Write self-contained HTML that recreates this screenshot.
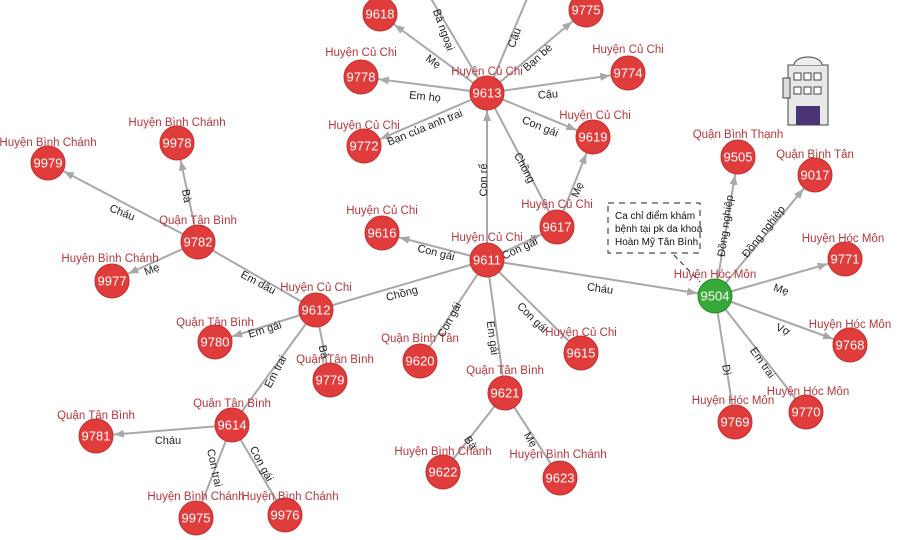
<!DOCTYPE html>
<html><head><meta charset="utf-8"><style>
html,body{margin:0;padding:0;background:#fff;width:900px;height:540px;overflow:hidden}
svg{display:block}
.e{stroke:#a8a8a8;stroke-width:2;fill:none}
.n{fill:#e03c3c;stroke:#c42e2e;stroke-width:1}
.id{fill:#fff;font:13px "Liberation Sans",sans-serif;text-anchor:middle;dominant-baseline:central}
.lb{fill:#b8363c;font:11.5px "Liberation Sans",sans-serif;text-anchor:middle}
.el{fill:#222;font:11px "Liberation Sans",sans-serif;text-anchor:middle;dominant-baseline:central}
.bx{font:10px "Liberation Sans",sans-serif;fill:#111}
</style></head><body>
<svg width="900" height="540" viewBox="0 0 900 540" xmlns="http://www.w3.org/2000/svg">
<defs><marker id="a" markerUnits="userSpaceOnUse" markerWidth="12" markerHeight="10" refX="28" refY="4" orient="auto"><path d="M0,0 L10,4 L0,8 z" fill="#a8a8a8"/></marker></defs>
<g class="e" marker-end="url(#a)">
<line x1="487" y1="93" x2="380" y2="14"/>
<line x1="487" y1="93" x2="420" y2="-20" marker-end="none"/>
<line x1="487" y1="93" x2="535" y2="-20" marker-end="none"/>
<line x1="487" y1="93" x2="586" y2="10"/>
<line x1="487" y1="93" x2="361" y2="77"/>
<line x1="487" y1="93" x2="628" y2="73"/>
<line x1="487" y1="93" x2="364" y2="146"/>
<line x1="487" y1="93" x2="593" y2="137"/>
<line x1="557" y1="227" x2="487" y2="93" marker-end="none"/>
<line x1="487" y1="260" x2="487" y2="93"/>
<line x1="557" y1="227" x2="593" y2="137"/>
<line x1="487" y1="260" x2="382" y2="233"/>
<line x1="487" y1="260" x2="557" y2="227"/>
<line x1="487" y1="260" x2="715" y2="296"/>
<line x1="316" y1="310" x2="487" y2="260" marker-end="none"/>
<line x1="487" y1="260" x2="420" y2="361" marker-end="none"/>
<line x1="487" y1="260" x2="505" y2="393" marker-end="none"/>
<line x1="487" y1="260" x2="581" y2="353" marker-end="none"/>
<line x1="505" y1="393" x2="443" y2="472" marker-end="none"/>
<line x1="505" y1="393" x2="560" y2="478" marker-end="none"/>
<line x1="316" y1="310" x2="198" y2="242" marker-end="none"/>
<line x1="198" y1="242" x2="177" y2="143"/>
<line x1="198" y1="242" x2="48" y2="163"/>
<line x1="198" y1="242" x2="112" y2="281"/>
<line x1="316" y1="310" x2="215" y2="342"/>
<line x1="316" y1="310" x2="330" y2="380" marker-end="none"/>
<line x1="316" y1="310" x2="232" y2="425" marker-end="none"/>
<line x1="232" y1="425" x2="96" y2="436"/>
<line x1="232" y1="425" x2="196" y2="518" marker-end="none"/>
<line x1="232" y1="425" x2="285" y2="515" marker-end="none"/>
<line x1="715" y1="296" x2="738" y2="157"/>
<line x1="715" y1="296" x2="815" y2="175"/>
<line x1="715" y1="296" x2="845" y2="259"/>
<line x1="715" y1="296" x2="850" y2="345"/>
<line x1="715" y1="296" x2="806" y2="412" marker-end="none"/>
<line x1="715" y1="296" x2="735" y2="422" marker-end="none"/>
</g>
<g class="el">
<text transform="translate(433,62) rotate(36)">Mẹ</text>
<text transform="translate(443,30) rotate(70)">Bà ngoại</text>
<text transform="translate(515,38) rotate(-70)">Cậu</text>
<text transform="translate(538,58) rotate(-42)">Bạn bè</text>
<text transform="translate(425,97) rotate(6)">Em họ</text>
<text transform="translate(548,95) rotate(-4)">Cậu</text>
<text transform="translate(425,128) rotate(-22)">Bạn của anh trai</text>
<text transform="translate(540,127) rotate(22)">Con gái</text>
<text transform="translate(524,168) rotate(62)">Chồng</text>
<text transform="translate(484,180) rotate(-90)">Con rể</text>
<text transform="translate(578,190) rotate(-68)">Mẹ</text>
<text transform="translate(436,253) rotate(14)">Con gái</text>
<text transform="translate(520,249) rotate(-25)">Con gái</text>
<text transform="translate(600,289) rotate(8)">Cháu</text>
<text transform="translate(402,294) rotate(-15)">Chồng</text>
<text transform="translate(450,320) rotate(-62)">Con gái</text>
<text transform="translate(492,338) rotate(82)">Em gái</text>
<text transform="translate(532,318) rotate(45)">Con gái</text>
<text transform="translate(470,443) rotate(55)">Bà</text>
<text transform="translate(530,440) rotate(58)">Mẹ</text>
<text transform="translate(258,283) rotate(28)">Em dâu</text>
<text transform="translate(186,196) rotate(80)">Bà</text>
<text transform="translate(122,213) rotate(22)">Cháu</text>
<text transform="translate(152,270) rotate(-22)">Mẹ</text>
<text transform="translate(265,330) rotate(-17)">Em gái</text>
<text transform="translate(323,352) rotate(78)">Bà</text>
<text transform="translate(276,372) rotate(-62)">Em trai</text>
<text transform="translate(168,441)">Cháu</text>
<text transform="translate(214,468) rotate(78)">Con trai</text>
<text transform="translate(261,464) rotate(62)">Con gái</text>
<text transform="translate(726,226) rotate(-82)">Đồng nghiệp</text>
<text transform="translate(764,232) rotate(-52)">Đồng nghiệp</text>
<text transform="translate(781,290) rotate(18)">Mẹ</text>
<text transform="translate(783,330) rotate(24)">Vợ</text>
<text transform="translate(762,363) rotate(55)">Em trai</text>
<text transform="translate(726,370) rotate(82)">Dì</text>
</g>
<rect x="608" y="203" width="92" height="50" fill="#fff" stroke="#222" stroke-dasharray="6,5"/>
<line x1="674" y1="255" x2="700" y2="282" stroke="#222" stroke-dasharray="5,4"/>
<text class="bx" x="615" y="219">Ca chỉ điểm khám</text>
<text class="bx" x="615" y="232">bệnh tại pk da khoa</text>
<text class="bx" x="615" y="245">Hoàn Mỹ Tân Bình</text>
<g>
<rect x="788" y="65" width="40" height="60" fill="#e8e8e8" stroke="#444" stroke-width="1"/>
<path d="M794,65 A14,8 0 0 1 822,65" fill="#eee" stroke="#444"/>
<rect x="783" y="78" width="7" height="20" fill="#ddd" stroke="#444"/>
<g fill="#fff" stroke="#444"><rect x="794" y="73" width="7" height="7"/><rect x="804" y="73" width="7" height="7"/><rect x="814" y="73" width="7" height="7"/><rect x="794" y="87" width="7" height="7"/><rect x="804" y="87" width="7" height="7"/><rect x="814" y="87" width="7" height="7"/></g>
<rect x="796" y="106" width="24" height="19" fill="#4a3577"/>
</g>
<g>
<circle class="n" cx="380" cy="14" r="17"/><text class="id" x="380" y="14">9618</text>
<circle class="n" cx="586" cy="10" r="17"/><text class="id" x="586" y="10">9775</text>
<circle class="n" cx="361" cy="77" r="17"/><text class="id" x="361" y="77">9778</text>
<circle class="n" cx="487" cy="93" r="17"/><text class="id" x="487" y="93">9613</text>
<circle class="n" cx="628" cy="73" r="17"/><text class="id" x="628" y="73">9774</text>
<circle class="n" cx="364" cy="146" r="17"/><text class="id" x="364" y="146">9772</text>
<circle class="n" cx="593" cy="137" r="17"/><text class="id" x="593" y="137">9619</text>
<circle class="n" cx="382" cy="233" r="17"/><text class="id" x="382" y="233">9616</text>
<circle class="n" cx="487" cy="260" r="17"/><text class="id" x="487" y="260">9611</text>
<circle class="n" cx="557" cy="227" r="17"/><text class="id" x="557" y="227">9617</text>
<circle class="n" cx="420" cy="361" r="17"/><text class="id" x="420" y="361">9620</text>
<circle class="n" cx="581" cy="353" r="17"/><text class="id" x="581" y="353">9615</text>
<circle class="n" cx="505" cy="393" r="17"/><text class="id" x="505" y="393">9621</text>
<circle class="n" cx="443" cy="472" r="17"/><text class="id" x="443" y="472">9622</text>
<circle class="n" cx="560" cy="478" r="17"/><text class="id" x="560" y="478">9623</text>
<circle cx="715" cy="296" r="17" fill="#36a93a" stroke="#25852a"/><text class="id" x="715" y="296">9504</text>
<circle class="n" cx="738" cy="157" r="17"/><text class="id" x="738" y="157">9505</text>
<circle class="n" cx="815" cy="175" r="17"/><text class="id" x="815" y="175">9017</text>
<circle class="n" cx="845" cy="259" r="17"/><text class="id" x="845" y="259">9771</text>
<circle class="n" cx="850" cy="345" r="17"/><text class="id" x="850" y="345">9768</text>
<circle class="n" cx="806" cy="412" r="17"/><text class="id" x="806" y="412">9770</text>
<circle class="n" cx="735" cy="422" r="17"/><text class="id" x="735" y="422">9769</text>
<circle class="n" cx="316" cy="310" r="17"/><text class="id" x="316" y="310">9612</text>
<circle class="n" cx="198" cy="242" r="17"/><text class="id" x="198" y="242">9782</text>
<circle class="n" cx="177" cy="143" r="17"/><text class="id" x="177" y="143">9978</text>
<circle class="n" cx="48" cy="163" r="17"/><text class="id" x="48" y="163">9979</text>
<circle class="n" cx="112" cy="281" r="17"/><text class="id" x="112" y="281">9977</text>
<circle class="n" cx="215" cy="342" r="17"/><text class="id" x="215" y="342">9780</text>
<circle class="n" cx="330" cy="380" r="17"/><text class="id" x="330" y="380">9779</text>
<circle class="n" cx="232" cy="425" r="17"/><text class="id" x="232" y="425">9614</text>
<circle class="n" cx="96" cy="436" r="17"/><text class="id" x="96" y="436">9781</text>
<circle class="n" cx="196" cy="518" r="17"/><text class="id" x="196" y="518">9975</text>
<circle class="n" cx="285" cy="515" r="17"/><text class="id" x="285" y="515">9976</text>
</g>
<g class="lb">
<text x="361" y="56">Huyện Củ Chi</text>
<text x="487" y="75">Huyện Củ Chi</text>
<text x="628" y="53">Huyện Củ Chi</text>
<text x="364" y="129">Huyện Củ Chi</text>
<text x="595" y="119">Huyện Củ Chi</text>
<text x="382" y="214">Huyện Củ Chi</text>
<text x="487" y="241">Huyện Củ Chi</text>
<text x="557" y="208">Huyện Củ Chi</text>
<text x="420" y="342">Quận Bình Tân</text>
<text x="581" y="336">Huyện Củ Chi</text>
<text x="505" y="374">Quận Tân Bình</text>
<text x="443" y="455">Huyện Bình Chánh</text>
<text x="558" y="458">Huyện Bình Chánh</text>
<text x="715" y="278">Huyện Hóc Môn</text>
<text x="738" y="138">Quận Bình Thạnh</text>
<text x="815" y="158">Quận Bình Tân</text>
<text x="843" y="242">Huyện Hóc Môn</text>
<text x="850" y="328">Huyện Hóc Môn</text>
<text x="808" y="395">Huyện Hóc Môn</text>
<text x="733" y="404">Huyện Hóc Môn</text>
<text x="316" y="291">Huyện Củ Chi</text>
<text x="198" y="224">Quận Tân Bình</text>
<text x="177" y="126">Huyện Bình Chánh</text>
<text x="48" y="146">Huyện Bình Chánh</text>
<text x="110" y="262">Huyện Bình Chánh</text>
<text x="215" y="326">Quận Tân Bình</text>
<text x="335" y="363">Quận Tân Bình</text>
<text x="232" y="407">Quận Tân Bình</text>
<text x="96" y="419">Quận Tân Bình</text>
<text x="196" y="500">Huyện Bình Chánh</text>
<text x="290" y="500">Huyện Bình Chánh</text>
</g>
</svg>
</body></html>
